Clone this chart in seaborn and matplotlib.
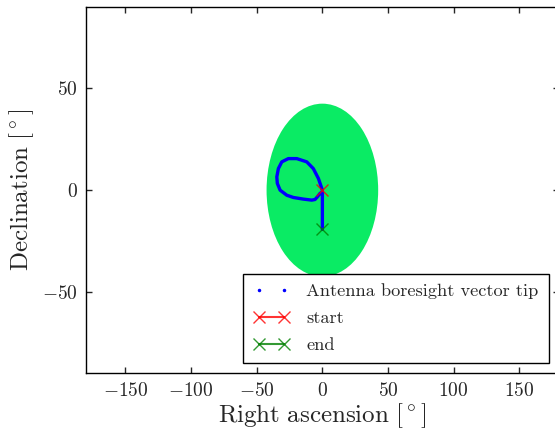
import matplotlib
matplotlib.use("Agg")
import matplotlib.pyplot as plt
import seaborn as sns
import numpy as np
from matplotlib.patches import Circle
from matplotlib.lines import Line2D

# ---- data ----
ra_path = [0.0, -3.0, -6.9, -11.9, -19.5, -25.9, -30.9, -33.5, -34.7, -34.3, -32.2,
           -27.1, -22.1, -14.5, -8.1, -5.6, -3.8, -1.8, 0.0, 0.0, 0.0, 0.0, 0.0]
dec_path = [0.0, 5.7, 10.6, 13.9, 15.5, 15.5, 13.9, 10.6, 6.5, 3.3, 0.0,
            -2.5, -3.6, -4.4, -4.9, -4.6, -3.3, -1.6, -0.8, -5.0, -10.0, -15.0, -19.3]
start_point = (0.0, 0.0)
end_point = (0.0, -19.3)
beam_center = (0.0, 0.0)
beam_radius = 42.5
x_ticks = [-150, -100, -50, 0, 50, 100, 150]
y_ticks = [-50, 0, 50]
x_limits = (-180, 180)
y_limits = (-90, 90)

sns.set_style("ticks")
plt.rcParams.update({
    "font.family": "serif",
    "font.serif": ["cmr10", "DejaVu Serif"],
    "mathtext.fontset": "cm",
    "axes.formatter.use_mathtext": True,
    "axes.unicode_minus": True,
    "xtick.direction": "in",
    "ytick.direction": "in",
    "xtick.top": True,
    "ytick.right": True,
    "axes.edgecolor": "black",
    "axes.linewidth": 1.0,
})

fig = plt.figure(figsize=(5.55, 4.32), dpi=100)
ax = fig.add_axes([0.155, 0.1359, 1.0067 - 0.155, 0.9838 - 0.1359])

ax.add_patch(Circle(beam_center, beam_radius, facecolor="#0aeb64", edgecolor="none", zorder=1))

sns.lineplot(x=ra_path, y=dec_path, sort=False, estimator=None, color="blue",
             lw=2.4, ax=ax, zorder=3)
ax.plot([start_point[0]], [start_point[1]], "x-", color="red", ms=9, mew=1.0, alpha=0.8, zorder=4)
ax.plot([end_point[0]], [end_point[1]], "x-", color="green", ms=9, mew=1.0, alpha=0.8, zorder=4)

ax.set_xlim(*x_limits)
ax.set_ylim(*y_limits)
ax.set_xticks(x_ticks)
ax.set_yticks(y_ticks)
ax.tick_params(labelsize=14, length=4.5, width=1.0, pad=6)

ax.set_xlabel(r"$\mathrm{Right\ ascension\ [^\circ]}$", fontsize=18, labelpad=1)
ax.set_ylabel(r"$\mathrm{Declination\ [^\circ]}$", fontsize=18, labelpad=4)

handles = [
    Line2D([0], [0], marker=".", color="blue", ls="none", ms=3),
    Line2D([0], [0], marker="x", color="red", ls="-", ms=9, mew=1.0, alpha=0.8),
    Line2D([0], [0], marker="x", color="green", ls="-", ms=9, mew=1.0, alpha=0.8),
]
labels = ["Antenna boresight vector tip", "start", "end"]
leg = ax.legend(handles, labels, loc="lower right", fontsize=13.2, numpoints=2,
                frameon=True, fancybox=False, framealpha=1, edgecolor="black",
                borderaxespad=0.55, borderpad=0.55, labelspacing=0.6,
                handlelength=2.0, handletextpad=0.9)
leg.get_frame().set_linewidth(1.0)

fig.savefig("out.png", dpi=100)
